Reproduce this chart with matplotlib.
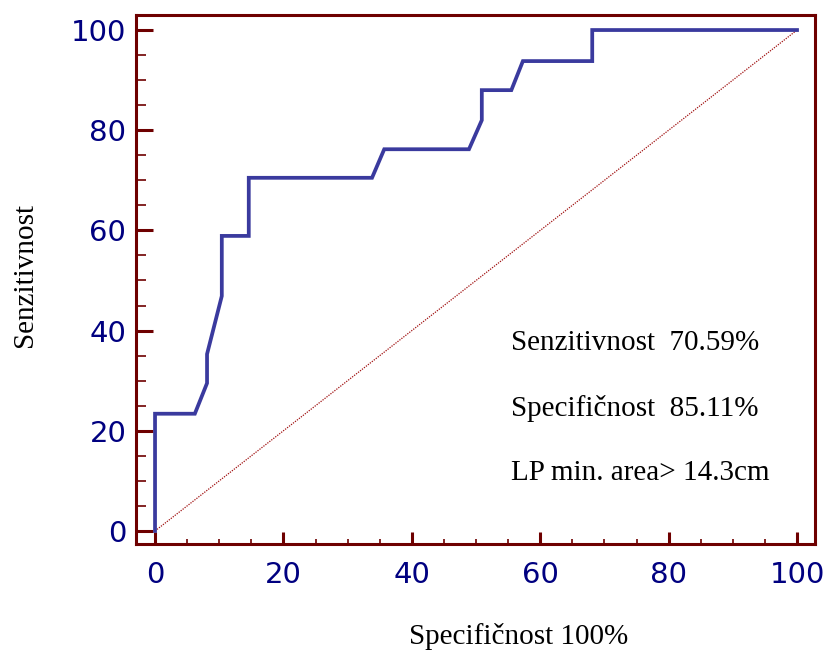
import matplotlib
matplotlib.use("Agg")
import matplotlib.pyplot as plt
from matplotlib.ticker import MultipleLocator

# ROC krivulja (100-specificnost, senzitivnost)
fpr = [0, 0, 6.2, 8.1, 8.1, 10.4, 10.4, 14.6, 14.6, 33.8, 35.7, 48.9, 50.9, 50.9, 55.5, 57.3, 68.1, 68.1, 100]
tpr = [0, 23.4, 23.4, 29.5, 35.3, 46.9, 58.9, 58.9, 70.5, 70.5, 76.2, 76.2, 82.0, 88.0, 88.0, 93.8, 93.8, 100, 100]

diag = [0, 100]
ticks = [0, 20, 40, 60, 80, 100]
info = ["Senzitivnost  70.59%", "Specifičnost  85.11%", "LP min. area> 14.3cm"]

frame = "#6e0000"
navy = "#000080"

fig = plt.figure(figsize=(8.33, 6.58), dpi=100)
ax = fig.add_axes([0.1633, 0.1733, 0.8151, 0.8039])

ax.plot(diag, diag, color="#a01010", lw=0.9, ls=(0, (1, 1)))
ax.plot(fpr, tpr, color="#3a3a9e", lw=2.7, solid_joinstyle="miter")

ax.set_xlim(-2.96, 102.8)
ax.set_ylim(-2.6, 103)

for s in ax.spines.values():
    s.set_color(frame)
    s.set_linewidth(2.2)

ax.set_xticks(ticks)
ax.set_yticks(ticks)
ax.xaxis.set_minor_locator(MultipleLocator(5))
ax.yaxis.set_minor_locator(MultipleLocator(5))
ax.tick_params(axis="x", which="major", direction="in", length=8.6, width=2.2, color=frame,
               labelsize=21, labelcolor=navy, pad=12)
ax.tick_params(axis="x", which="minor", direction="in", length=3.6, width=1.2, color=frame)
ax.tick_params(axis="y", which="major", direction="in", length=12, width=2.2, color=frame,
               labelsize=21, labelcolor=navy, pad=7)
ax.tick_params(axis="y", which="minor", direction="in", length=7.2, width=1.2, color=frame)
ax.tick_params(top=False, right=False)

fig.text(0.622, 0.032, "Specifičnost 100%", family="Liberation Serif", fontsize=21,
         ha="center", va="center")
fig.text(0.030, 0.582, "Senzitivnost", family="Liberation Serif", fontsize=21,
         ha="center", va="center", rotation=90)

for i, t in enumerate(info):
    ax.text(55.5, 37.5 - i * 13, t, family="Liberation Serif", fontsize=21, va="center", ha="left")

fig.savefig("out.png", dpi=100)
